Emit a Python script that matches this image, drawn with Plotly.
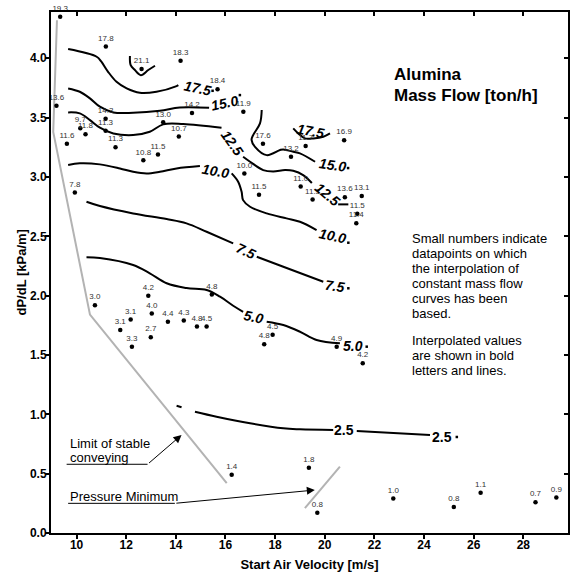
import plotly.graph_objects as go

# ---------------- data points (x = start air velocity, y = dP/dL, label = mass flow) ----------------
pt_x = [9.34, 11.18, 12.62, 14.19, 9.19, 11.17, 10.15, 10.36, 11.17, 9.61, 11.57, 13.49, 14.12,
        12.69, 13.28, 9.93, 14.65, 15.68, 16.72, 17.51, 16.76, 17.35, 18.64, 19.23, 20.78, 19.03,
        19.51, 20.81, 21.49, 21.31, 21.27, 10.74, 12.89, 12.18, 13.03, 11.76, 13.68, 14.32, 14.85,
        15.24, 12.99, 12.23, 15.45, 17.90, 17.56, 20.48, 21.53, 16.25, 19.36, 19.70, 22.76, 25.20,
        26.28, 28.49, 29.33]
pt_y = [4.35, 4.10, 3.91, 3.98, 3.60, 3.49, 3.41, 3.36, 3.39, 3.28, 3.25, 3.46, 3.34,
        3.14, 3.19, 2.87, 3.54, 3.74, 3.55, 3.28, 3.03, 2.85, 3.17, 3.26, 3.31, 2.92,
        2.81, 2.83, 2.84, 2.69, 2.61, 1.92, 2.00, 1.80, 1.85, 1.71, 1.78, 1.79, 1.74,
        1.74, 1.65, 1.57, 2.01, 1.67, 1.59, 1.57, 1.43, 0.49, 0.55, 0.17, 0.29, 0.22,
        0.34, 0.26, 0.30]
pt_label = ["19.3", "17.8", "21.1", "18.3", "13.6", "14.3", "9.7", "11.8", "11.3", "11.6", "11.3",
            "13.0", "10.7", "10.8", "11.5", "7.8", "14.2", "18.4", "11.9", "17.6", "10.0", "11.5",
            "13.2", "11.7", "16.9", "11.0", "11.3", "13.6", "13.1", "11.5", "11.4", "3.0", "4.2",
            "3.1", "4.0", "3.1", "4.4", "4.3", "4.8", "4.5", "2.7", "3.3", "4.8", "4.5", "4.8",
            "4.9", "4.2", "1.4", "1.8", "0.8", "1.0", "0.8", "1.1", "0.7", "0.9"]

# ---------------- interpolated constant mass-flow curves ----------------
c175a_x = [9.66, 10.81, 11.00, 11.27, 11.61, 12.02, 12.55, 13.22, 14.03, 14.10]
c175a_y = [4.078, 4.013, 3.971, 3.886, 3.802, 3.746, 3.709, 3.718, 3.766, 3.774]
c175b_x = [12.15, 12.18, 12.35, 12.59, 12.89, 13.16]
c175b_y = [4.019, 3.943, 3.901, 3.858, 3.901, 3.937]
c175c_x = [18.73, 18.93, 19.20, 19.54, 19.94, 20.21]
c175c_y = [3.409, 3.367, 3.325, 3.325, 3.339, 3.367]

c150a_x = [9.66, 10.13, 10.54, 10.94, 11.48, 12.28, 13.36, 14.16, 15.34]
c150a_y = [3.746, 3.718, 3.662, 3.592, 3.544, 3.541, 3.558, 3.586, 3.583]
c150b_x = [17.46, 17.39, 17.12, 17.05, 17.19, 17.66, 18.20, 18.33, 18.73, 19.00, 19.61]
c150b_y = [3.564, 3.452, 3.355, 3.312, 3.254, 3.184, 3.227, 3.232, 3.212, 3.199, 3.128]

c125a_x = [9.66, 10.13, 10.54, 10.94, 11.48, 12.28, 12.95, 13.49, 14.30, 15.84]
c125a_y = [3.544, 3.536, 3.479, 3.415, 3.367, 3.353, 3.381, 3.443, 3.446, 3.415]
c125b_x = [16.71, 16.99, 17.52, 17.92, 18.40, 18.73, 19.13, 19.48]
c125b_y = [3.170, 3.128, 3.058, 3.047, 3.058, 3.052, 3.016, 2.949]
c125c_x = [20.54, 20.95]
c125c_y = [2.769, 2.769]

c100a_x = [9.66, 10.13, 10.94, 11.75, 12.28, 12.82, 13.36, 14.03, 14.97]
c100a_y = [3.100, 3.115, 3.106, 3.072, 3.044, 3.030, 3.044, 3.072, 3.092]
c100b_x = [16.25, 16.51, 16.65, 16.71, 16.99, 17.66, 18.46, 19.00, 19.67]
c100b_y = [3.030, 2.960, 2.875, 2.805, 2.749, 2.693, 2.651, 2.623, 2.553]

c75a_x = [10.40, 10.94, 12.28, 13.63, 14.43, 15.24, 16.31]
c75a_y = [2.791, 2.755, 2.693, 2.645, 2.609, 2.538, 2.441]
c75b_x = [17.26, 18.33, 19.94]
c75b_y = [2.328, 2.243, 2.117]

c50a_x = [10.40, 10.94, 12.28, 12.95, 13.63, 14.43, 15.24, 15.78, 16.31, 16.71]
c50a_y = [2.323, 2.317, 2.258, 2.188, 2.104, 2.064, 2.047, 1.991, 1.915, 1.864]
c50b_x = [17.66, 18.33, 19.00, 19.67, 20.61]
c50b_y = [1.780, 1.752, 1.696, 1.626, 1.598]

c25a_x = [14.03, 14.23]
c25a_y = [1.072, 1.059]
c25b_x = [14.77, 15.64, 16.99, 18.33, 19.00, 20.34]
c25b_y = [1.022, 0.980, 0.924, 0.882, 0.874, 0.868]
c25c_x = [21.29, 24.24]
c25c_y = [0.859, 0.826]

curves = [(c175a_x, c175a_y), (c175b_x, c175b_y), (c175c_x, c175c_y),
          (c150a_x, c150a_y), (c150b_x, c150b_y),
          (c125a_x, c125a_y), (c125b_x, c125b_y), (c125c_x, c125c_y),
          (c100a_x, c100a_y), (c100b_x, c100b_y),
          (c75a_x, c75a_y), (c75b_x, c75b_y),
          (c50a_x, c50a_y), (c50b_x, c50b_y),
          (c25a_x, c25a_y), (c25b_x, c25b_y), (c25c_x, c25c_y)]

# curve-end markers (small dots after the final labels)
end_x = [15.48, 16.58, 20.94, 20.95, 20.95, 21.69, 25.32]
end_y = [3.726, 3.690, 3.075, 2.446, 2.062, 1.570, 0.809]

# curve labels: x, y, text, angle, italic
lab_x = [14.86, 15.98, 16.28, 15.59, 16.82, 17.15, 19.44, 20.31, 20.09, 20.33, 20.41, 21.14, 20.77, 24.74]
lab_y = [3.749, 3.623, 3.290, 3.050, 2.372, 1.824, 3.387, 3.100, 2.856, 2.502, 2.081, 1.575, 0.868, 0.809]
lab_text = ["17.5", "15.0", "12.5", "10.0", "7.5", "5.0", "17.5", "15.0", "12.5", "10.0", "7.5", "5.0", "2.5", "2.5"]
lab_angle = [12, -12, 55, 10, 25, 12, 10, 8, 40, 12, 8, 0, 0, 0]
lab_italic = [True] * 12 + [False, False]

# grey limit lines
limit_x = [9.21, 9.06, 10.54, 16.05]
limit_y = [4.32, 3.38, 1.84, 0.42]
pmin_x = [19.20, 20.61]
pmin_y = [0.21, 0.56]

# pointer lines for the two notes
note1_line_x = [9.60, 12.86]
note1_line_y = [0.579, 0.579]
note1_head = (14.23, 0.826)
note2_line_x = [9.66, 13.96]
note2_line_y = [0.250, 0.250]
note2_head = (19.60, 0.362)

x_ticks = [10, 12, 14, 16, 18, 20, 22, 24, 26, 28, 30]
y_ticks = [0.0, 0.5, 1.0, 1.5, 2.0, 2.5, 3.0, 3.5, 4.0]

title_lines = ["Alumina", "Mass Flow [ton/h]"]
note_lines = ["Small numbers indicate", "datapoints on which", "the interpolation of",
              "constant mass flow", "curves has been", "based."]
note_lines2 = ["Interpolated values", "are shown in bold", "letters and lines."]

FONT = "Liberation Sans, Arial, sans-serif"
X_RANGE = [8.97, 29.8]
Y_RANGE = [0, 4.39]

fig = go.Figure()

# grey lines
fig.add_trace(go.Scatter(x=limit_x, y=limit_y, mode="lines",
                         line=dict(color="#b3b3b3", width=2), hoverinfo="skip"))
fig.add_trace(go.Scatter(x=pmin_x, y=pmin_y, mode="lines",
                         line=dict(color="#b3b3b3", width=2), hoverinfo="skip"))

# contour curves
for cx, cy in curves:
    fig.add_trace(go.Scatter(x=cx, y=cy, mode="lines", line=dict(color="black", width=2),
                             line_shape="spline", hoverinfo="skip"))

fig.add_trace(go.Scatter(x=end_x, y=end_y, mode="markers",
                         marker=dict(color="black", size=2.5, symbol="square"), hoverinfo="skip"))

# pointer underlines
for lx, ly in [(note1_line_x, note1_line_y), (note2_line_x, note2_line_y)]:
    fig.add_trace(go.Scatter(x=lx, y=ly, mode="lines", line=dict(color="black", width=1),
                             hoverinfo="skip"))

# data points
fig.add_trace(go.Scatter(x=pt_x, y=pt_y, mode="markers+text", text=pt_label,
                         textposition="top center",
                         textfont=dict(size=8, color="#333333", family=FONT),
                         marker=dict(color="black", size=4.5), cliponaxis=False))

# dummy trace for mirrored axes
fig.add_trace(go.Scatter(x=[None], y=[None], xaxis="x2", yaxis="y2", hoverinfo="skip"))

ann = []
for x, y, t, a, it in zip(lab_x, lab_y, lab_text, lab_angle, lab_italic):
    txt = f"<b><i>{t}</i></b>" if it else f"<b>{t}</b>"
    ann.append(dict(x=x, y=y, text=txt, textangle=a, showarrow=False,
                    font=dict(size=14, color="black", family=FONT),
                    xanchor="center", yanchor="middle"))

# arrows
for (lx, ly), head in [((note1_line_x, note1_line_y), note1_head),
                       ((note2_line_x, note2_line_y), note2_head)]:
    ann.append(dict(x=head[0], y=head[1], ax=lx[-1], ay=ly[-1], axref="x", ayref="y",
                    xref="x", yref="y", text="", showarrow=True, arrowhead=2,
                    arrowsize=1.6, arrowwidth=1, arrowcolor="black"))

# note text
for i, line in enumerate(["Limit of stable", "conveying"]):
    ann.append(dict(x=9.66, y=0.758 - i * 0.118, text=line, showarrow=False, xanchor="left",
                    yanchor="middle", font=dict(size=13, color="black", family=FONT)))
ann.append(dict(x=9.66, y=0.307, text="Pressure Minimum", showarrow=False, xanchor="left",
                yanchor="middle", font=dict(size=13, color="black", family=FONT)))

for i, line in enumerate(title_lines):
    ann.append(dict(x=22.70, y=3.86 - i * 0.177, text=f"<b>{line}</b>", showarrow=False,
                    xanchor="left", yanchor="middle",
                    font=dict(size=17, color="black", family=FONT)))
for i, line in enumerate(note_lines):
    ann.append(dict(x=23.43, y=2.485 - i * 0.1264, text=line, showarrow=False,
                    xanchor="left", yanchor="middle",
                    font=dict(size=13, color="black", family=FONT)))
for i, line in enumerate(note_lines2):
    ann.append(dict(x=23.43, y=1.618 - i * 0.1264, text=line, showarrow=False,
                    xanchor="left", yanchor="middle",
                    font=dict(size=13, color="black", family=FONT)))

# y-axis title
ann.append(dict(xref="paper", yref="paper", x=0, y=0.5, xshift=-30, text="<b>dP/dL [kPa/m]</b>",
                textangle=-90, showarrow=False, xanchor="center", yanchor="middle",
                font=dict(size=13, color="black", family=FONT)))

axis_common = dict(showgrid=False, zeroline=False, showline=True, linecolor="black",
                   linewidth=2, tickcolor="black", tickwidth=1.5, ticklen=4, automargin=False)

fig.update_layout(
    width=573, height=576,
    margin=dict(l=51, r=5, t=12, b=43),
    paper_bgcolor="white", plot_bgcolor="white",
    showlegend=False,
    font=dict(family=FONT, color="black"),
    xaxis=dict(range=X_RANGE, tickvals=x_ticks, ticks="outside", ticklabelstandoff=-4,
               tickfont=dict(size=12, family=FONT, weight="bold"),
               title=dict(text="<b>Start Air Velocity [m/s]</b>", font=dict(size=13),
                          standoff=8),
               **axis_common),
    yaxis=dict(range=Y_RANGE, tickvals=y_ticks, tickformat=".1f", ticks="outside",
               ticklabelstandoff=-4,
               tickfont=dict(size=12, family=FONT, weight="bold"),
               **axis_common),
    xaxis2=dict(range=X_RANGE, tickvals=x_ticks, ticks="inside", showticklabels=False,
                overlaying="x", side="top", anchor="y", **axis_common),
    yaxis2=dict(range=Y_RANGE, tickvals=y_ticks, ticks="inside", showticklabels=False,
                overlaying="y", side="right", anchor="x", **axis_common),
    annotations=ann,
)

fig.write_html("out.html")
